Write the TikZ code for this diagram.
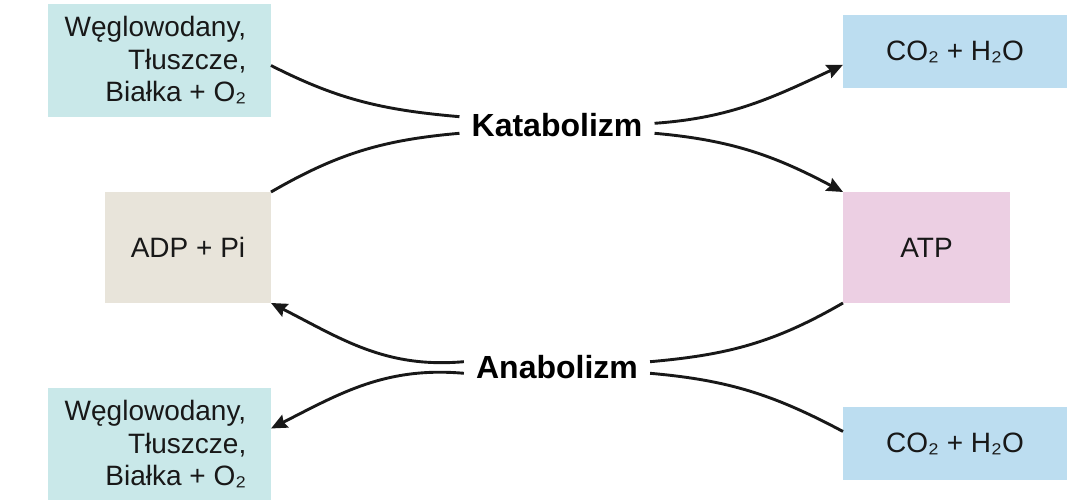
\documentclass[tikz,border=0pt]{standalone}
\usepackage{fontspec}
\setmainfont{Liberation Sans}
\usetikzlibrary{arrows.meta}
\definecolor{tealbox}{RGB}{201,232,233}
\definecolor{bluebox}{RGB}{188,221,240}
\definecolor{beigebox}{RGB}{232,228,218}
\definecolor{pinkbox}{RGB}{236,207,227}
\definecolor{ink}{RGB}{24,24,24}
\begin{document}
\begin{tikzpicture}[x=1pt,y=1pt,
  box/.style={rectangle,inner sep=0pt,outer sep=0pt,text=ink},
  txt/.style={inner sep=0pt,text=ink,font=\fontsize{28}{32.5}\selectfont},
  proc/.style={inner xsep=12pt,inner ysep=4pt,font=\fontsize{32}{36}\selectfont\bfseries,text=black},
  conn/.style={line width=2.9pt,draw=ink},
  arr/.style={conn,-{Stealth[length=16pt,width=14pt,inset=2pt]}}]
\useasboundingbox (0,0) rectangle (1080,500);
% boxes
\node[box,fill=tealbox,minimum width=223pt,minimum height=113pt] (tl) at (159.5,439.5) {};
\node[txt,anchor=east,align=right] (tltxt) at ([xshift=-24.5pt]tl.east) {Węglowodany,\\Tłuszcze,\\Białka + O₂};
\node[box,fill=beigebox,minimum width=166pt,minimum height=111pt] (adp) at (188,252.5) {};
\node[txt] (adptxt) at (adp.center) {ADP + Pi};
\node[box,fill=tealbox,minimum width=223pt,minimum height=113pt] (bl) at (159.5,55.5) {};
\node[txt,anchor=east,align=right] (bltxt) at ([xshift=-24.5pt]bl.east) {Węglowodany,\\Tłuszcze,\\Białka + O₂};
\node[box,fill=bluebox,minimum width=224pt,minimum height=73.5pt] (co2t) at (955,448.25) {};
\node[txt] (co2ttxt) at (co2t.center) {CO₂ + H₂O};
\node[box,fill=pinkbox,minimum width=167pt,minimum height=111pt] (atp) at (926.5,252.5) {};
\node[txt] (atptxt) at (atp.center) {ATP};
\node[box,fill=bluebox,minimum width=224pt,minimum height=73pt] (co2b) at (955,56.5) {};
\node[txt] (co2btxt) at (co2b.center) {CO₂ + H₂O};
% process labels
\node[proc] (kat) at (557,375) {Katabolizm};
\node[proc] (ana) at (557,132.5) {Anabolizm};
% catabolism
\draw[conn] ([yshift=-5pt]tl.east) to[out=-27,in=175] ([yshift=8.3pt]kat.west);
\draw[conn] ([yshift=-8.3pt]kat.west) to[out=185,in=30] (adp.north east);
\draw[arr] ([yshift=1.7pt]kat.east) to[out=4,in=205] ([yshift=-13pt]co2t.west);
\draw[arr] ([yshift=-8.3pt]kat.east) to[out=-5,in=152] (atp.north west);
% anabolism
\draw[arr] ([yshift=5.8pt]ana.west) to[out=185,in=-27] (adp.south east);
\draw[arr] ([yshift=-5.8pt]ana.west) to[out=175,in=27] ([yshift=16pt]bl.east);
\draw[conn] (atp.south west) to[out=-150,in=5] ([yshift=5.8pt]ana.east);
\draw[conn] ([yshift=12pt]co2b.west) to[out=152,in=-5] ([yshift=-5.8pt]ana.east);
\end{tikzpicture}
\end{document}
